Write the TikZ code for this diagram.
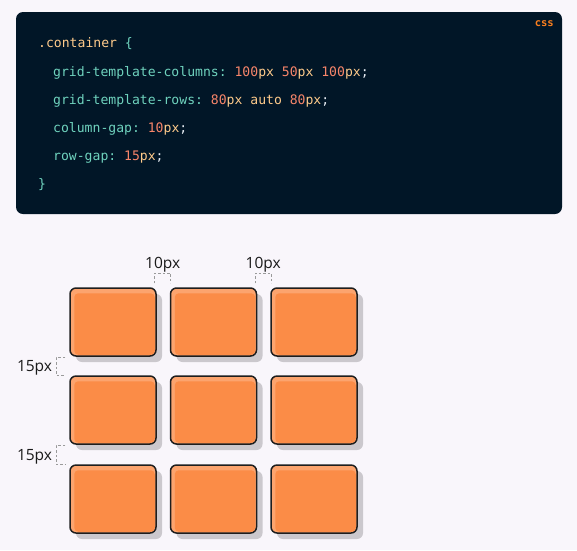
\documentclass[tikz,border=0pt]{standalone}
\usepackage{fontspec}
\setmainfont{Open Sans}
\setmonofont{DejaVu Sans Mono}
\newfontfamily\tagfont{DejaVu Sans Mono Bold}
\usetikzlibrary{positioning,calc,shadows}
\definecolor{pagebg}{HTML}{F9F6FB}
\definecolor{codebg}{HTML}{011627}
\definecolor{codeclass}{HTML}{FFCB8B}
\definecolor{codeprop}{HTML}{6FD3BE}
\definecolor{codenum}{HTML}{F7856A}
\definecolor{codeunit}{HTML}{FFCB8B}
\definecolor{codepunct}{HTML}{E6ECF3}
\definecolor{csstag}{HTML}{F97E1E}
\definecolor{celllight}{HTML}{FCA46E}
\definecolor{cellorange}{HTML}{FB8C47}
\definecolor{cellline}{HTML}{1E1E1E}
\definecolor{cellshadow}{HTML}{CBC8CD}
\definecolor{gapgrey}{HTML}{9A9A9A}
\definecolor{gaptext}{HTML}{1A1A1A}
\newcommand{\cnum}[1]{\textcolor{codenum}{#1}}
\newcommand{\cunit}[1]{\textcolor{codeunit}{#1}}
\newcommand{\cprop}[1]{\textcolor{codeprop}{#1}}
\tikzset{
    codebox/.style  = {fill=codebg, rounded corners=7pt, inner sep=0pt,
            minimum width=546pt, minimum height=202pt},
    codeline/.style = {anchor=base west, inner sep=0pt, text=codepunct,
            font=\ttfamily\fontsize{13.1}{13}\selectfont},
    cell/.style     = {draw=cellline, line width=1.5pt, fill=celllight,
            rounded corners=6pt, minimum width=86pt, minimum height=68pt,
            general shadow={fill=cellshadow, shadow xshift=6pt, shadow yshift=-6pt}},
    gaplabel/.style = {inner sep=0pt, text=gaptext, font=\fontsize{15.5}{15.5}\selectfont},
    gapmark/.style  = {draw=gapgrey, line width=0.8pt, dash pattern=on 2.5pt off 2pt},
}
\begin{document}
\begin{tikzpicture}[x=1pt, y=-1pt]
    \fill[pagebg] (0,0) rectangle (577,550);
    \useasboundingbox (0,0) rectangle (577,550);

    % code block
    \node[codebox] (code) at (289,113) {};
    \node[anchor=base east, inner sep=0pt, text=csstag,
        font=\tagfont\fontsize{10.5}{10.5}\selectfont] (tag) at (554,26) {css};
    \node[codeline] (l1) at (38,47) {\textcolor{codeclass}{.container} \cprop{\{}};
    \node[codeline] (l2) at (53,76) {\cprop{grid-template-columns:} \cnum{100}\cunit{px} \cnum{50}\cunit{px} \cnum{100}\cunit{px};};
    \node[codeline] (l3) at (53,104) {\cprop{grid-template-rows:} \cnum{80}\cunit{px} \cunit{auto} \cnum{80}\cunit{px};};
    \node[codeline] (l4) at (53,132) {\cprop{column-gap:} \cnum{10}\cunit{px};};
    \node[codeline] (l5) at (53,160) {\cprop{row-gap:} \cnum{15}\cunit{px};};
    \node[codeline] (l6) at (38,188) {\cprop{\}}};

    % grid cells
    \foreach \r/\y in {1/322, 2/410, 3/499}
        \foreach \c/\x in {1/113, 2/213.5, 3/314} {
            \node[cell] (c\r\c) at (\x,\y) {};
            \fill[cellorange, rounded corners=4pt]
                ($(c\r\c.north west)+(5,6)$) rectangle ($(c\r\c.south east)+(-2,-2)$);
        }

    % column gaps
    \coordinate (g1a) at ($(c11.north east)+(-2,-4)$);
    \coordinate (g1b) at ($(c12.north west)+(1,-4)$);
    \draw[gapmark] (g1a) -- ++(0,-10) -| (g1b);
    \node[gaplabel, anchor=base] (col1) at ($(g1a)!.5!(g1b)+(0,-15)$) {10px};
    \coordinate (g2a) at ($(c12.north east)+(-2,-4)$);
    \coordinate (g2b) at ($(c13.north west)+(1,-4)$);
    \draw[gapmark] (g2a) -- ++(0,-10) -| (g2b);
    \node[gaplabel, anchor=base] (col2) at ($(g2a)!.5!(g2b)+(0,-15)$) {10px};

    % row gaps
    \coordinate (g3a) at ($(c11.south west)+(-4,1)$);
    \coordinate (g3b) at ($(c21.north west)+(-4,0)$);
    \draw[gapmark] (g3a) -- ++(-9,0) |- (g3b);
    \node[gaplabel, anchor=base east] (row1) at ($(g3a)!.5!(g3b)+(-13,5)$) {15px};
    \coordinate (g4a) at ($(c21.south west)+(-4,1)$);
    \coordinate (g4b) at ($(c31.north west)+(-4,0)$);
    \draw[gapmark] (g4a) -- ++(-9,0) |- (g4b);
    \node[gaplabel, anchor=base east] (row2) at ($(g4a)!.5!(g4b)+(-13,5)$) {15px};
\end{tikzpicture}
\end{document}
